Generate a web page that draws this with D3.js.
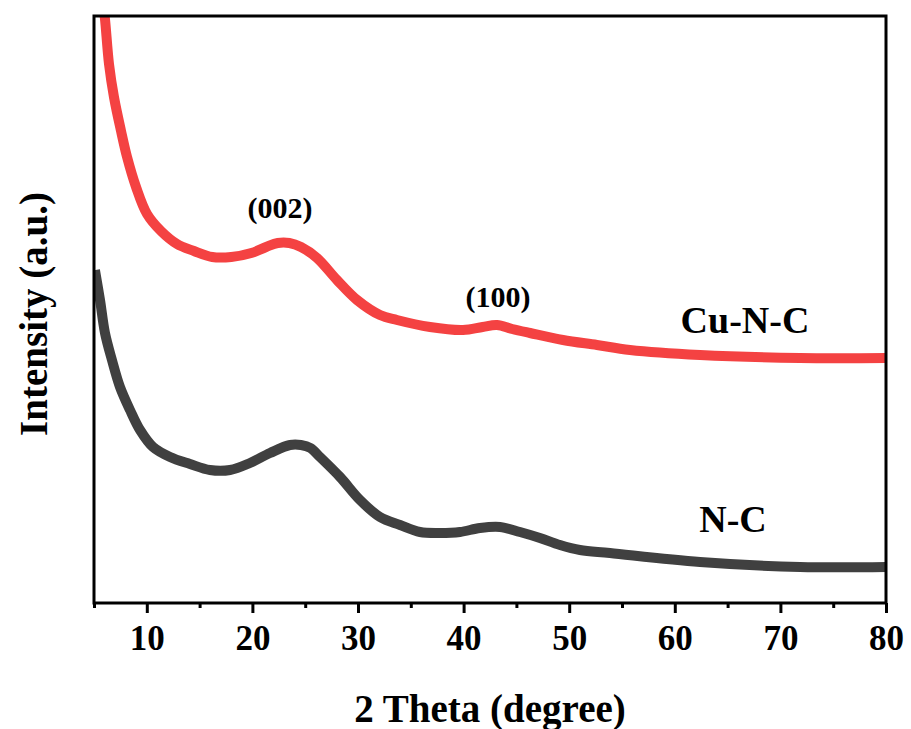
<!DOCTYPE html>
<html><head><meta charset="utf-8">
<script src="https://cdn.jsdelivr.net/npm/d3@7"></script>
<style>body{margin:0;background:#fff}text{font-family:"Liberation Serif","Times New Roman",serif;font-weight:bold;fill:#000}</style>
</head><body>
<svg id="c" width="911" height="729"></svg>
<script>
// 2θ (degree) and intensity (a.u., arbitrary offset units)
const cuNC_theta = [5.9,6.04,6.42,6.89,7.56,8.13,8.98,10.02,11.34,12.86,14.47,16.2,18.0,19.9,21.3,22.4,23.5,24.6,26.12,28.01,29.91,32.08,33.69,36.82,39.94,41.8,43.16,44.6,46.29,49.41,52.63,55.76,62.39,71.86,80];
const cuNC_int   = [595,584,539,506,472,446,416,389,372,359,352,346,346,350,356,360,360,356,345,323,303,288,283,276,273,276,278,274,270,263,258,253,248,245,245];
const nc_theta = [5.09,5.57,6.04,6.70,7.46,8.41,9.36,10.59,12.20,14.09,15.98,17.88,19.77,21.67,23.56,24.6,25.5,26.40,28.30,30.19,32.08,33.98,35.87,37.77,39.66,41.55,43.45,45.34,47.23,49.13,51.02,53.86,62.39,71.86,80];
const nc_int   = [333,303,270,243,216,193,173,156,146,139,133,133,140,150,158,158,155,146,126,103,86,78,71,70,71,75,76,71,65,58,53,50,41,36,36];
const xTicks = [10,20,30,40,50,60,70,80];
const xMinor = [5,15,25,35,45,55,65,75];
const labels = {cu:"Cu-N-C", nc:"N-C", p002:"(002)", p100:"(100)", xTitle:"2 Theta (degree)", yTitle:"Intensity (a.u.)"};

const svg = d3.select("#c");
const L=94, R=886, T=16, B=603;
const x = d3.scaleLinear().domain([5,80]).range([L,R]);
const y = d3.scaleLinear().domain([0,587]).range([B,T]);

svg.append("clipPath").attr("id","clip").append("rect").attr("x",L).attr("y",T).attr("width",R-L).attr("height",B-T);

const line = d3.line().x(d=>x(d[0])).y(d=>y(d[1])).curve(d3.curveCatmullRom.alpha(0.5));
const g = svg.append("g").attr("clip-path","url(#clip)");
g.append("path").datum(nc_theta.map((t,i)=>[t,nc_int[i]]))
  .attr("d",line).attr("fill","none").attr("stroke","#404040").attr("stroke-width",10).attr("stroke-linejoin","round");
g.append("path").datum(cuNC_theta.map((t,i)=>[t,cuNC_int[i]]))
  .attr("d",line).attr("fill","none").attr("stroke","#f44242").attr("stroke-width",10).attr("stroke-linejoin","round");

// frame
svg.append("rect").attr("x",L).attr("y",T).attr("width",R-L).attr("height",B-T)
  .attr("fill","none").attr("stroke","#000").attr("stroke-width",3);

// x axis
const ax = svg.append("g").attr("transform",`translate(0,${B})`)
  .call(d3.axisBottom(x).tickValues(xTicks).tickSize(10).tickPadding(12).tickFormat(d3.format("d")));
ax.select(".domain").remove();
ax.selectAll(".tick line").attr("stroke","#000").attr("stroke-width",3);
ax.selectAll(".tick text").attr("font-size",35).style("font-family",'"Liberation Serif",serif').style("font-weight","bold");
const axm = svg.append("g").attr("transform",`translate(0,${B})`)
  .call(d3.axisBottom(x).tickValues(xMinor).tickSize(5).tickFormat(""));
axm.select(".domain").remove();
axm.selectAll(".tick line").attr("stroke","#000").attr("stroke-width",3);

// titles
svg.append("text").attr("x",(L+R)/2).attr("y",722).attr("text-anchor","middle").attr("font-size",39).text(labels.xTitle);
svg.append("text").attr("transform","translate(47,314) rotate(-90)").attr("text-anchor","middle").attr("font-size",39).text(labels.yTitle);

// annotations
svg.append("text").attr("x",280).attr("y",218).attr("text-anchor","middle").attr("font-size",30).text(labels.p002);
svg.append("text").attr("x",498).attr("y",307).attr("text-anchor","middle").attr("font-size",30).text(labels.p100);
svg.append("text").attr("x",745).attr("y",333).attr("text-anchor","middle").attr("font-size",38).text(labels.cu);
svg.append("text").attr("x",733).attr("y",532).attr("text-anchor","middle").attr("font-size",38).text(labels.nc);
</script>
</body></html>
